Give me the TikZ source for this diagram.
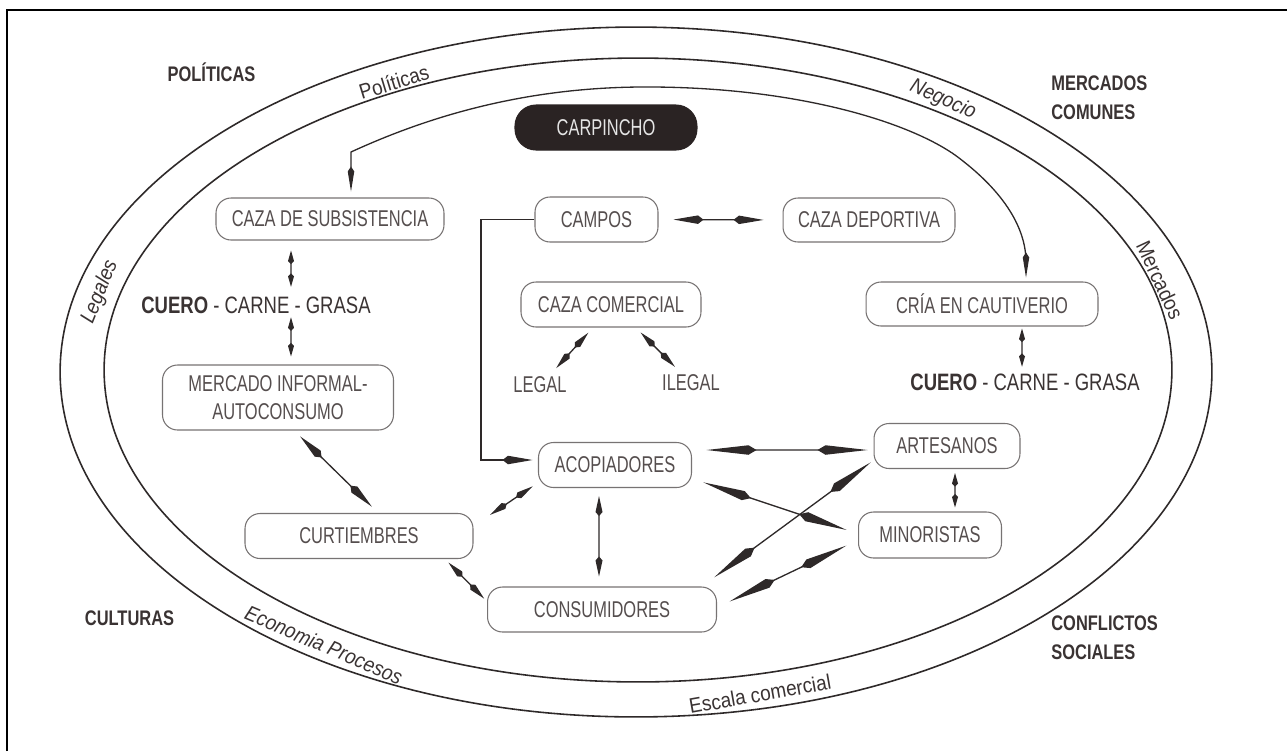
\documentclass[tikz,border=0pt]{standalone}
\usepackage{fontspec}
\setmainfont{Liberation Sans}
\newfontfamily\boxfont{Liberation Sans}[FakeStretch=0.72]
\newfontfamily\lblfont{Liberation Sans}[FakeStretch=0.78]
\newfontfamily\ringfont{Liberation Sans}[FakeStretch=0.9]
\usetikzlibrary{arrows.meta}
\definecolor{ink}{HTML}{2E2929}
\definecolor{boxtext}{HTML}{554E4E}
\definecolor{boxline}{HTML}{777373}
\definecolor{lbl}{HTML}{3A3333}
\definecolor{pill}{HTML}{2A2323}

\tikzset{
  box/.style={draw=boxline, line width=0.6pt, rounded corners=0.3cm, inner sep=0pt,
    minimum height=0.9cm, text=boxtext, align=center,
    font=\boxfont\fontsize{13}{16}\selectfont},
  product/.style={inner sep=0pt, text=lbl, font=\lblfont\fontsize{13.5}{16}\selectfont},
  small/.style={inner sep=0pt, text=boxtext, font=\boxfont\fontsize{13}{16}\selectfont},
  region/.style={inner sep=0pt, text=lbl, align=left, font=\lblfont\bfseries\fontsize{12}{16.5}\selectfont},
  ring/.style={inner sep=0pt, text=lbl, font=\ringfont\fontsize{12}{14}\selectfont},
  conn/.style={draw=ink, line width=0.75pt},
  arrBig/.style={conn, arrows={Kite[length=1cm,width=0.19cm,inset=0.16cm]-Kite[length=1cm,width=0.19cm,inset=0.16cm]}},
  arrMid/.style={conn, arrows={Kite[length=0.6cm,width=0.17cm,inset=0.11cm]-Kite[length=0.6cm,width=0.17cm,inset=0.11cm]}},
  arrSml/.style={conn, arrows={Kite[length=0.4cm,width=0.14cm,inset=0.08cm]-Kite[length=0.4cm,width=0.14cm,inset=0.08cm]}},
  arrTny/.style={conn, arrows={Kite[length=0.27cm,width=0.12cm,inset=0.06cm]-Kite[length=0.27cm,width=0.12cm,inset=0.06cm]}},
  arrTop/.style={conn, arrows={Kite[length=0.5cm,width=0.13cm,inset=0.1cm]-Kite[length=0.5cm,width=0.13cm,inset=0.1cm]}},
}

\begin{document}
\begin{tikzpicture}[x=0.02cm, y=-0.02cm]
\useasboundingbox (0,0) rectangle (1287,751);
\fill[white] (0,0) rectangle (1287,751);

% frame
\draw[line width=1.2pt, black] (7,751) -- (7,10) -- (1287,10);

% the two rings
\draw[ink, line width=0.9pt] (636,372) ellipse [x radius=11.52cm, y radius=6.9cm];
\draw[ink, line width=0.9pt] (638,370) ellipse [x radius=10.68cm, y radius=6.24cm];

% ring labels
\node[ring, rotate=17] (rPol) at (394,82) {Políticas};
\node[ring, rotate=-24] (rNeg) at (943,100) {\itshape Negocio};
\node[ring, rotate=68] (rLeg) at (100,292) {\itshape Legales};
\node[ring, rotate=-65] (rMer) at (1160,280) {Mercados};
\node[ring, rotate=-23] (rEco) at (324,645) {\itshape Economia Procesos};
\node[ring, rotate=10] (rEsc) at (760,694) {Escala comercial};

% outer labels
\node[region] (politicas) at (211.5,72) {POLÍTICAS};
\node[region, anchor=west] (mercomun) at (1051,97.5) {MERCADOS\\COMUNES};
\node[region] (culturas) at (129.5,618) {CULTURAS};
\node[region, anchor=west] (conflictos) at (1051,637.5) {CONFLICTOS\\SOCIALES};

% boxes
\node[box, fill=pill, draw=pill, text=white!90!black, rounded corners=0.42cm,
      minimum width=3.64cm] (carp) at (606,127.5) {CARPINCHO};
\node[box, minimum width=4.56cm, minimum height=0.84cm] (sub) at (330,219) {CAZA DE SUBSISTENCIA};
\node[box, minimum width=2.46cm] (campos) at (596.5,219.5) {CAMPOS};
\node[box, minimum width=3.44cm, minimum height=0.88cm] (dep) at (869,220) {CAZA DEPORTIVA};
\node[box, minimum width=3.6cm] (com) at (611,304.5) {CAZA COMERCIAL};
\node[box, minimum width=4.64cm, minimum height=0.88cm] (cria) at (982,304) {CRÍA EN CAUTIVERIO};
\node[box, minimum width=4.62cm, minimum height=1.3cm] (merc) at (278,397.5) {MERCADO INFORMAL-\\AUTOCONSUMO};
\node[box, minimum width=3.06cm] (acop) at (615,465) {ACOPIADORES};
\node[box, minimum width=2.92cm] (artes) at (947,446) {ARTESANOS};
\node[box, minimum width=2.86cm, minimum height=0.92cm] (minor) at (930,535) {MINORISTAS};
\node[box, minimum width=4.56cm] (curt) at (359,536) {CURTIEMBRES};
\node[box, minimum width=4.58cm] (cons) at (602,609.5) {CONSUMIDORES};

% products and loose labels
\node[product] (cuero1) at (256,305) {\bfseries CUERO\mdseries\ - CARNE - GRASA};
\node[product] (cuero2) at (1025,382) {\bfseries CUERO\mdseries\ - CARNE - GRASA};
\node[small] (legal) at (540,385) {LEGAL};
\node[small] (ilegal) at (691,383) {ILEGAL};

% curve from the top, down to both kinds of production
\coordinate (kL) at (351,152);
\coordinate (kR) at (1026,262);
\draw[arrTop, shorten <=0.12cm, shorten >=0.08cm]
  (sub.north -| kL) -- (kL)
  .. controls (425,118) and (520,88) .. (640,87)
  .. controls (790,86) and (905,120) .. (955,155)
  .. controls (1000,188) and (1026,225) .. (kR)
  -- (cria.north -| kR);

% subsistence chain
\draw[arrTny, shorten <=0.2cm, shorten >=0.19cm] ([xshift=-0.78cm]sub.south) -- ([xshift=0.7cm]cuero1.north);
\draw[arrTny, shorten <=0.07cm, shorten >=0.16cm] ([xshift=0.7cm]cuero1.south) -- ([xshift=0.26cm]merc.north);
\draw[arrMid, shorten <=0.17cm, shorten >=0.18cm] (merc.-64) -- (curt.50);

% fields
\draw[arrMid, shorten <=0.3cm, shorten >=0.38cm] (campos.east) -- (dep.west);
\coordinate (elbow) at (481,222);
\coordinate (acopin) at ([yshift=0.1cm]acop.west);
\draw[conn, -{Kite[length=0.6cm,width=0.17cm,inset=0.11cm]}, shorten >=0.11cm]
  (campos.west) -| (elbow |- acopin) -- (acopin);

% commercial hunting
\draw[arrSml, shorten <=0.14cm, shorten >=0.23cm] (com.232) -- ([xshift=0.17cm]legal.north);
\draw[arrSml, shorten <=0.14cm, shorten >=0.22cm] (com.-43) -- ([xshift=-0.166cm]ilegal.north);

% captive breeding
\draw[arrTny, shorten <=0.04cm, shorten >=0.13cm] ([xshift=0.8cm]cria.south) -- ([xshift=-0.06cm]cuero2.north);

% trade network
\draw[arrSml, shorten <=0.4cm, shorten >=0.13cm] (curt.5) -- (acop.193);
\draw[arrSml, shorten <=0.1cm, shorten >=0.08cm] (curt.-15) -- (cons.176);
\draw[arrSml, shorten <=0.16cm, shorten >=0.2cm] ([xshift=-0.32cm]acop.south) -- ([xshift=-0.06cm]cons.north);
\draw[arrBig, shorten <=0.29cm, shorten >=0.12cm] ([yshift=0.3cm]acop.east) -- ([yshift=-0.08cm]artes.west);
\draw[arrBig, shorten <=0.24cm, shorten >=0.24cm] (acop.-10) -- (minor.179);
\draw[arrBig, shorten <=0.31cm, shorten >=0.07cm] (cons.13) -- (artes.191);
\draw[arrBig, shorten <=0.28cm, shorten >=0.26cm] (cons.1) -- (minor.184);
\draw[arrTny, shorten <=0.08cm, shorten >=0.08cm] ([xshift=0.16cm]artes.south) -- ([xshift=0.5cm]minor.north);
\end{tikzpicture}
\end{document}
